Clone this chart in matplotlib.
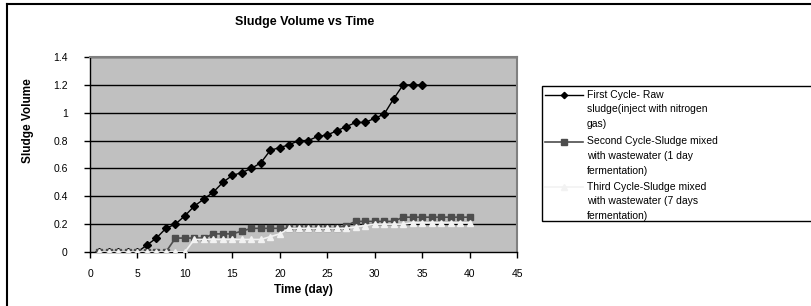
import numpy as np
import matplotlib
matplotlib.use('Agg')
import matplotlib.pyplot as plt
from matplotlib.lines import Line2D
from matplotlib.patches import Rectangle

plt.rcParams['font.family'] = ['Liberation Sans', 'DejaVu Sans']

# Data
days_first = list(range(1, 36))
first_cycle = [0, 0, 0, 0, 0, 0.05, 0.10, 0.17, 0.20, 0.26,
               0.33, 0.38, 0.43, 0.50, 0.55, 0.57, 0.60, 0.64, 0.73, 0.75,
               0.77, 0.80, 0.80, 0.83, 0.84, 0.87, 0.90, 0.93, 0.93, 0.96,
               0.99, 1.10, 1.20, 1.20, 1.20]

days_other = list(range(1, 41))
second_cycle = [0, 0, 0, 0, 0, 0, 0, 0, 0.10, 0.10,
                0.10, 0.10, 0.13, 0.13, 0.13, 0.15, 0.17, 0.17, 0.17, 0.17,
                0.17, 0.17, 0.17, 0.17, 0.17, 0.17, 0.19, 0.22, 0.22, 0.22,
                0.22, 0.22, 0.25, 0.25, 0.25, 0.25, 0.25, 0.25, 0.25, 0.25]
third_cycle = [0, 0, 0, 0, 0, 0, 0, 0, 0, 0,
               0.09, 0.09, 0.09, 0.09, 0.09, 0.09, 0.09, 0.09, 0.11, 0.13,
               0.17, 0.17, 0.17, 0.17, 0.17, 0.17, 0.17, 0.18, 0.19, 0.20,
               0.20, 0.20, 0.20, 0.21, 0.21, 0.21, 0.21, 0.21, 0.21, 0.21]

labels = ['First Cycle- Raw\nsludge(inject with nitrogen\ngas)',
          'Second Cycle-Sludge mixed\nwith wastewater (1 day\nfermentation)',
          'Third Cycle-Sludge mixed\nwith wastewater (7 days\nfermentation)']

x_ticks = [0, 5, 10, 15, 20, 25, 30, 35, 40, 45]
y_ticks = [0, 0.2, 0.4, 0.6, 0.8, 1.0, 1.2, 1.4]
y_ticklabels = ['0', '0.2', '0.4', '0.6', '0.8', '1', '1.2', '1.4']

styles = [
    dict(color='black', marker='D', ms=4, lw=1.0),
    dict(color='#4d4d4d', marker='s', ms=4.5, lw=1.2),
    dict(color='#f2f2f2', marker='^', ms=5, lw=1.2),
]

fig = plt.figure(figsize=(8.11, 3.06), dpi=100)
ax = fig.add_axes([90 / 811, 1 - 252 / 306, 427 / 811, 195 / 306])
ax.set_facecolor('#c0c0c0')

# horizontal gridlines
for yv in y_ticks[1:]:
    ax.axhline(yv, color='black', lw=1.0, zorder=1)

# Excel draws later series on top
ax.plot(days_first, first_cycle, zorder=2, **styles[0])
ax.plot(days_other, second_cycle, zorder=3, **styles[1])
ax.plot(days_other, third_cycle, zorder=4, **styles[2])

ax.set_xlim(0, 45)
ax.set_ylim(0, 1.4)
ax.set_xticks(x_ticks)
ax.set_yticks(y_ticks)
ax.set_yticklabels(y_ticklabels)
ax.tick_params(labelsize=7.5, direction='out', length=4, width=1, pad=8)
ax.tick_params(axis='y', pad=12)

for side in ['top', 'right']:
    ax.spines[side].set_color('#808080')
    ax.spines[side].set_linewidth(1.5)
for side in ['left', 'bottom']:
    ax.spines[side].set_color('black')
    ax.spines[side].set_linewidth(1.0)

fig.text(305 / 811, 1 - 22 / 306, 'Sludge Volume vs Time', ha='center',
         va='center', fontsize=9, fontweight='bold')
fig.text(303 / 811, 1 - 290 / 306, 'Time (day)', ha='center',
         va='center', fontsize=8.5, fontweight='bold')
fig.text(28 / 811, 1 - 121 / 306, 'Sludge Volume', ha='center',
         va='center', fontsize=8.5, fontweight='bold', rotation=90)

# legend box (runs past the right edge in the reference)
fig.add_artist(Rectangle((542 / 811, 1 - 221 / 306), 300 / 811, 135 / 306,
                         transform=fig.transFigure, facecolor='white',
                         edgecolor='black', lw=1.0, zorder=0))

# legend entries: sample line sits on the first text line
first_line_y = [95, 141.7, 187.3]
line_gap = 14.2
for lab, st, yp in zip(labels, styles, first_line_y):
    yf = 1 - yp / 306
    fig.add_artist(Line2D([545 / 811, 583 / 811], [yf, yf],
                          transform=fig.transFigure, color=st['color'],
                          lw=st['lw'], zorder=2))
    fig.add_artist(Line2D([564 / 811], [yf], transform=fig.transFigure,
                          color=st['color'], marker=st['marker'],
                          ms=st['ms'] - 0.8, lw=0, zorder=3))
    fig.text(587 / 811, 1 - (yp + line_gap) / 306, lab, ha='left',
             va='center', fontsize=7.5, linespacing=1.58)

# outer chart border (only left and top visible)
fig.add_artist(Line2D([7 / 811, 7 / 811], [0, 1 - 4 / 306],
                      color='black', lw=1.5, transform=fig.transFigure))
fig.add_artist(Line2D([7 / 811, 1], [1 - 4 / 306, 1 - 4 / 306],
                      color='black', lw=1.5, transform=fig.transFigure))

fig.savefig('out.png', dpi=100)
